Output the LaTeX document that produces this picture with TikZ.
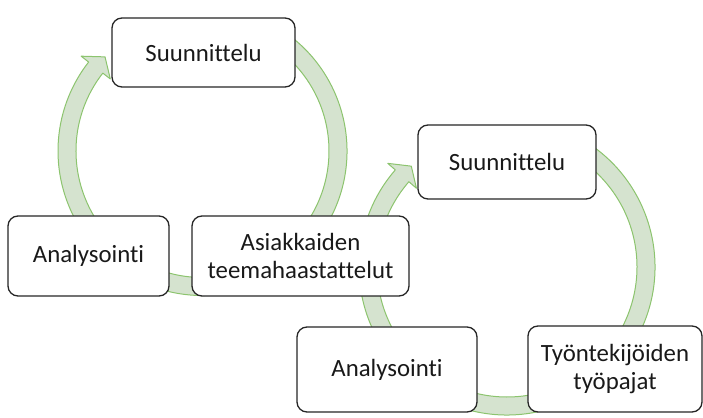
\documentclass[tikz,border=0pt]{standalone}
\usepackage{fontspec}
\setmainfont{Carlito}[Ligatures={NoCommon,NoContextual}]
\usetikzlibrary{calc}
\definecolor{ringfill}{RGB}{213,227,207}
\definecolor{ringline}{RGB}{140,196,110}
\definecolor{boxline}{RGB}{38,38,38}
\tikzset{
  ring/.style={fill=ringfill, draw=ringline, line width=1pt, line join=round},
  stepbox/.style={draw=boxline, fill=white, line width=1.3pt, rounded corners=10pt,
    inner sep=0pt, align=center, font=\fontsize{24.8}{28.5}\selectfont, text=black!90}
}
% #1 centre, #2 outer r, #3 inner r, #4 mid r, #5 wing out, #6 wing in, #7 tail angle, #8 head base angle, #9 tip angle
\newcommand{\ringarrow}[9]{%
  \path[ring] ($(#1)+(#7:#2)$) arc[start angle=#7, end angle=#8, radius=#2]
    -- ($(#1)+(#8:#5)$) -- ($(#1)+(#9:#4)$) -- ($(#1)+(#8:#6)$)
    -- ($(#1)+(#8:#3)$) arc[start angle=#8, end angle=#7, radius=#3] -- cycle;}
\begin{document}
\begin{tikzpicture}[x=1pt,y=1pt]
\useasboundingbox (0,0) rectangle (703,417);
\coordinate (c1) at (202.5,266);
\coordinate (c2) at (507,150);
\ringarrow{c1}{144.5}{126.5}{135.5}{154}{117}{62}{-218}{-224}
\ringarrow{c2}{148}{130}{139}{158}{120}{62}{-221}{-226.5}
% left cycle
\node[stepbox, minimum width=183pt, minimum height=69pt] (s1) at (203.5,364.5) {Suunnittelu};
\node[stepbox, minimum width=161pt, minimum height=80pt] (a1) at (88.5,161) {Analysointi};
\node[stepbox, minimum width=217pt, minimum height=80pt] (k1) at (300.5,161) {Asiakkaiden\\teemahaastattelut};
% right cycle
\node[stepbox, minimum width=178pt, minimum height=74pt] (s2) at (507,255) {Suunnittelu};
\node[stepbox, minimum width=180pt, minimum height=85pt] (a2) at (387,47.5) {Analysointi};
\node[stepbox, minimum width=174pt, minimum height=86pt] (t2) at (615,48) {Työntekijöiden\\työpajat};
\end{tikzpicture}
\end{document}
